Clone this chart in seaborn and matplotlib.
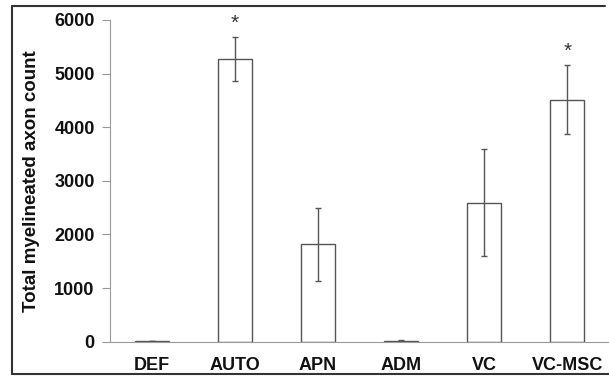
import numpy as np
import pandas as pd
import seaborn as sns
import matplotlib.pyplot as plt
from matplotlib.lines import Line2D

# Data
groups = ["DEF", "AUTO", "APN", "ADM", "VC", "VC-MSC"]
counts = [12, 5270, 1820, 22, 2590, 4510]
errors = [5, 410, 680, 8, 1000, 645]
significant = [False, True, False, False, False, True]

df = pd.DataFrame({"group": groups, "count": counts})

sns.set_style("white")
plt.rcParams["font.family"] = ["Liberation Sans", "DejaVu Sans"]
plt.rcParams["text.color"] = "#111111"
plt.rcParams["axes.labelcolor"] = "#111111"
plt.rcParams["xtick.labelcolor"] = "#111111"
plt.rcParams["ytick.labelcolor"] = "#111111"

fig = plt.figure(figsize=(6.09, 3.84), dpi=100)
ax = fig.add_axes([0.1806, 0.110, 0.8194, 0.838])

sns.barplot(data=df, x="group", y="count", color="white", edgecolor="#555555",
            linewidth=1.0, width=0.41, errorbar=None, ax=ax)

pos = np.arange(len(groups))
ax.errorbar(pos, counts, yerr=errors, fmt="none", ecolor="#555555",
            elinewidth=1.0, capsize=2.5, capthick=1.0)

# significance stars
for x, c, e, s in zip(pos, counts, errors, significant):
    if s:
        ax.annotate("*", (x, c + e), xytext=(0, 3), textcoords="offset points",
                    ha="center", va="bottom", fontsize=15, color="#333333")

ax.set_xlim(-0.5, len(groups) - 0.5)
ax.set_ylim(0, 6000)
ax.set_yticks(range(0, 6001, 1000))
ax.set_yticklabels([str(v) for v in range(0, 6001, 1000)], fontsize=13, fontweight="bold")
ax.set_xticks(pos)
ax.set_xticklabels(groups, fontsize=13, fontweight="bold")
ax.set_xticks(np.arange(-0.5, len(groups)), minor=True)
ax.tick_params(axis="x", which="major", length=0, pad=11)
ax.tick_params(axis="x", which="minor", length=4, width=0.8, color="#999999", direction="out")
ax.tick_params(axis="y", length=6, width=0.8, color="#999999", direction="out", pad=5, left=True)
ax.set_xlabel("")
ax.set_ylabel("Total myelineated axon count", fontsize=13.5, fontweight="bold", labelpad=10)

for side in ["top", "right"]:
    ax.spines[side].set_visible(False)
for side in ["left", "bottom"]:
    ax.spines[side].set_color("#999999")
    ax.spines[side].set_linewidth(0.8)

# outer frame of the figure
x0, x1 = 12 / 609, 605 / 609
y0, y1 = 1 - 374 / 384, 1 - 6 / 384
for xs, ys in [([x0, x1], [y1, y1]), ([x0, x0], [y0, y1]), ([x0, 1.0], [y0, y0])]:
    fig.add_artist(Line2D(xs, ys, color="#333333", linewidth=1.5, transform=fig.transFigure))

fig.savefig("out.png", dpi=100)
